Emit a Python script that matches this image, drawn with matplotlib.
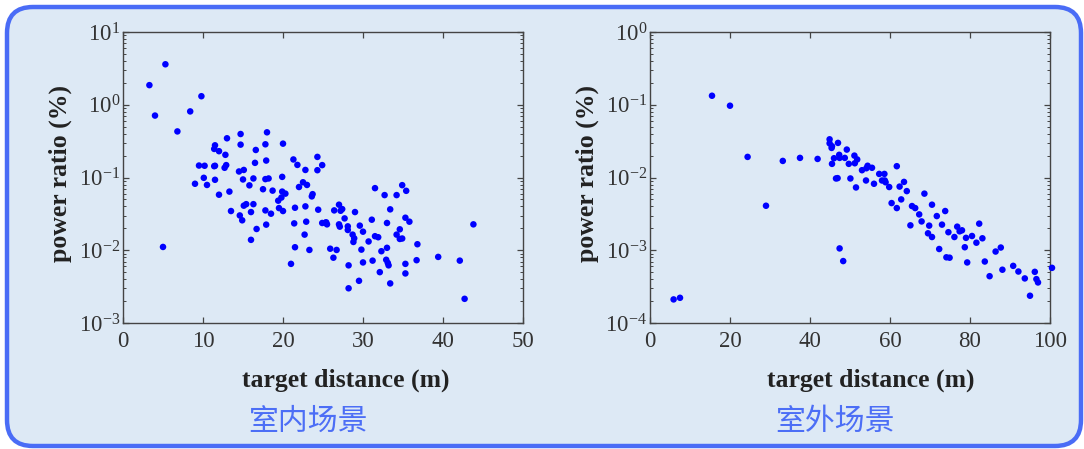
import matplotlib
matplotlib.use("Agg")
import matplotlib.pyplot as plt
from matplotlib.patches import FancyBboxPatch
from matplotlib.transforms import IdentityTransform

# ---------------- data ----------------
indoor_distance = [3.3, 5.3, 4.0, 9.8, 8.4, 6.8, 5.0, 11.5, 11.4, 12.0, 13.0, 12.8, 14.7, 14.7,
                   18.0, 17.8, 16.6, 17.9, 16.5, 9.5, 10.2, 11.4, 11.5, 12.9, 12.7, 14.5, 15.1,
                   10.1, 11.5, 9.0, 10.5, 15.0, 16.3, 15.8, 17.8, 18.2, 19.9, 17.5, 18.7, 12.0,
                   13.3, 20.0, 21.3, 21.8, 22.8, 24.3, 24.9, 24.3, 22.5, 23.0, 22.0, 19.9, 20.3,
                   19.8, 19.4, 23.7, 23.6, 15.1, 15.4, 16.3, 13.5, 16.0, 14.6, 14.9, 17.8, 18.5,
                   19.5, 20.0, 17.9, 16.7, 16.0, 21.5, 22.8, 24.4, 21.4, 22.9, 22.7, 21.5, 23.3,
                   21.0, 24.9, 25.3, 25.5, 25.4, 26.4, 27.0, 27.2, 27.4, 27.7, 27.0, 27.1, 28.1,
                   28.1, 28.7, 28.9, 28.8, 29.0, 29.6, 30.0, 25.9, 26.7, 26.3, 28.2, 28.2, 29.5,
                   29.8, 30.0, 30.7, 31.1, 31.5, 32.7, 31.5, 31.9, 31.2, 32.3, 32.1, 33.0, 33.4,
                   34.2, 34.9, 35.4, 35.3, 35.8, 34.6, 34.2, 34.6, 34.9, 33.0, 32.9, 33.1, 33.2,
                   33.4, 35.3, 35.3, 36.8, 36.7, 39.4, 42.1, 42.7, 43.8]
indoor_ratio = [1.86, 3.6, 0.71, 1.31, 0.81, 0.43, 0.0111, 0.277, 0.247, 0.230, 0.346, 0.205,
                0.396, 0.283, 0.418, 0.286, 0.239, 0.171, 0.159, 0.146, 0.145, 0.143, 0.145,
                0.148, 0.136, 0.121, 0.127, 0.099, 0.093, 0.082, 0.079, 0.094, 0.097, 0.078,
                0.095, 0.097, 0.102, 0.069, 0.066, 0.058, 0.064, 0.292, 0.177, 0.149, 0.127,
                0.192, 0.148, 0.126, 0.086, 0.079, 0.074, 0.064, 0.060, 0.053, 0.048, 0.059,
                0.055, 0.041, 0.043, 0.043, 0.0346, 0.0335, 0.0301, 0.0258, 0.0353, 0.0318,
                0.038, 0.0346, 0.0225, 0.0196, 0.0139, 0.0384, 0.0401, 0.0361, 0.0234, 0.0247,
                0.0164, 0.0110, 0.0101, 0.0065, 0.0237, 0.0239, 0.0227, 0.0242, 0.0353, 0.0423,
                0.0349, 0.0368, 0.0274, 0.0227, 0.0211, 0.0213, 0.0190, 0.0164, 0.0146, 0.0130,
                0.0335, 0.0218, 0.0180, 0.0105, 0.0101, 0.0079, 0.0062, 0.0030, 0.0038, 0.0102,
                0.0068, 0.0132, 0.0263, 0.0714, 0.0573, 0.0156, 0.0151, 0.0072, 0.0097, 0.0050,
                0.0237, 0.0365, 0.0573, 0.0785, 0.0656, 0.0280, 0.0247, 0.0194, 0.0164, 0.0143,
                0.0145, 0.0108, 0.0074, 0.0067, 0.0062, 0.0035, 0.0065, 0.0048, 0.0121, 0.0073,
                0.0081, 0.0072, 0.00215, 0.0227]

outdoor_distance = [5.9, 7.5, 15.5, 20.0, 24.4, 29.0, 33.2, 37.5, 41.9, 44.9, 44.9, 45.4, 45.5,
                    47.0, 46.0, 45.5, 47.3, 47.4, 48.7, 49.2, 49.7, 51.1, 51.2, 51.8, 46.5, 46.9,
                    50.1, 51.5, 53.0, 54.1, 54.4, 55.5, 54.0, 56.0, 57.3, 58.6, 58.0, 58.7, 58.9,
                    59.8, 61.7, 62.4, 63.5, 64.2, 62.8, 60.4, 61.7, 65.5, 66.3, 68.6, 67.3, 67.9,
                    65.1, 69.8, 69.5, 70.5, 71.7, 70.5, 73.0, 73.8, 74.6, 76.1, 72.3, 74.1, 74.9,
                    76.8, 77.4, 78.0, 79.0, 80.5, 82.3, 81.6, 83.1, 78.7, 79.3, 83.7, 84.9, 86.4,
                    87.7, 88.1, 90.8, 92.1, 93.7, 95.0, 96.2, 96.6, 97.0, 100.5, 47.4, 48.3]
outdoor_ratio = [0.000211, 0.000222, 0.133, 0.097, 0.0192, 0.00409, 0.0169, 0.0186, 0.0180,
                 0.0335, 0.0295, 0.0255, 0.0269, 0.0299, 0.0184, 0.0154, 0.0205, 0.0186, 0.0186,
                 0.0242, 0.0154, 0.0200, 0.0157, 0.0177, 0.0097, 0.0098, 0.0097, 0.0073, 0.0126,
                 0.0134, 0.0145, 0.0136, 0.0091, 0.0082, 0.0112, 0.0112, 0.0091, 0.0091, 0.0086,
                 0.0074, 0.0143, 0.0075, 0.0087, 0.0065, 0.0050, 0.00445, 0.0038, 0.00405, 0.0038,
                 0.0060, 0.00311, 0.00249, 0.00220, 0.00218, 0.00171, 0.00423, 0.00295, 0.00152,
                 0.00225, 0.00346, 0.00177, 0.00152, 0.00104, 0.00080, 0.00079, 0.00211, 0.00182,
                 0.00188, 0.00148, 0.00157, 0.00232, 0.00127, 0.00146, 0.00110, 0.00068, 0.00070,
                 0.00044, 0.00096, 0.00109, 0.00054, 0.00061, 0.00051, 0.00041, 0.000237,
                 0.000505, 0.000401, 0.000361, 0.000573, 0.00106, 0.00071]

indoor_xticks = [0, 10, 20, 30, 40, 50]
outdoor_xticks = [0, 20, 40, 60, 80, 100]
x_label = "target distance (m)"
y_label = "power ratio (%)"
titles = ["室内场景", "室外场景"]

# ---------------- style ----------------
plt.rcParams['font.family'] = ['Liberation Serif', 'DejaVu Serif']
plt.rcParams['mathtext.fontset'] = 'custom'
plt.rcParams['mathtext.rm'] = 'Liberation Serif'
plt.rcParams['mathtext.it'] = 'Liberation Serif'
plt.rcParams['mathtext.bf'] = 'Liberation Serif:bold'

BG = '#dde9f5'
BORDER = '#4a6cf6'
TXT_BLUE = '#4c6ef6'
W, H = 1084, 449

fig = plt.figure(figsize=(W / 100, H / 100), dpi=100, facecolor='white')

frame = FancyBboxPatch((7, 3), 1074, 439, boxstyle="round,pad=0,rounding_size=26",
                       transform=IdentityTransform(), facecolor=BG, edgecolor=BORDER,
                       linewidth=3.2, zorder=-10)
fig.patches.append(frame)

ax_h = 291 / H
ax_b = (H - 323) / H
ax_w = 400 / W
axes_specs = [
    (123 / W, indoor_distance, indoor_ratio, (0, 50), (1e-3, 1e1), indoor_xticks, 60, 346, 308, titles[0]),
    (650 / W, outdoor_distance, outdoor_ratio, (0, 100), (1e-4, 1e0), outdoor_xticks, 587, 871, 835, titles[1]),
]

for left, xs, ys, xlim, ylim, xticks, ylab_x, xlab_x, title_x, title in axes_specs:
    ax = fig.add_axes([left, ax_b, ax_w, ax_h], zorder=1)
    ax.set_facecolor('none')
    ax.scatter(xs, ys, s=22, color='#0000ff', edgecolors='none', clip_on=False, zorder=3)
    ax.set_yscale('log')
    ax.set_xlim(*xlim)
    ax.set_ylim(*ylim)
    ax.set_xticks(xticks)
    for sp in ax.spines.values():
        sp.set_color('#444444')
        sp.set_linewidth(1.0)
    ax.tick_params(which='both', direction='in', top=True, right=True, colors='#444444',
                   labelcolor='#333333', labelsize=16.5)
    ax.tick_params(which='major', length=4.5, width=0.9)
    ax.tick_params(which='minor', length=2.5, width=0.7)
    ax.tick_params(axis='x', pad=6)
    ax.tick_params(axis='y', pad=2)
    fig.text(ylab_x / W, 1 - 174 / H, y_label, rotation=90, ha='center', va='center',
             fontsize=18.5, fontweight='bold', color='#222222')
    fig.text(xlab_x / W, 1 - 380 / H, x_label, ha='center', va='center',
             fontsize=18.5, fontweight='bold', color='#222222')
    fig.text(title_x / W, 1 - 421 / H, title, ha='center', va='center', fontsize=21.5,
             color=TXT_BLUE, family=['Noto Sans CJK SC', 'DejaVu Sans'])

fig.savefig('out.png', dpi=100, facecolor='white')
